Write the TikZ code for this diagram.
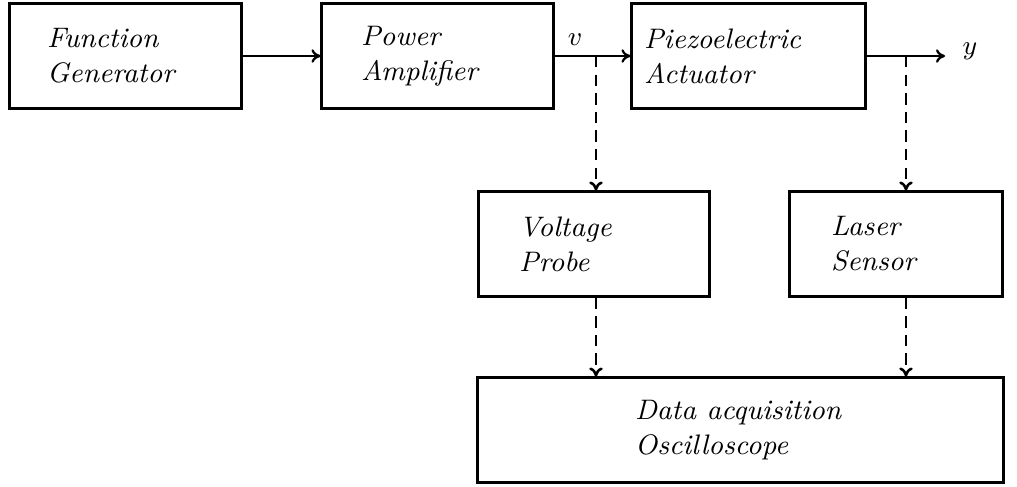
\documentclass[tikz,border=0pt]{standalone}
\usetikzlibrary{calc,arrows.meta}
\begin{document}
\begin{tikzpicture}[x=0.3333pt,y=-0.3333pt,
  box/.style={draw,line width=1pt,rectangle,minimum height=34.7pt,inner sep=0pt},
  lbl/.style={anchor=west,align=left,font=\fontsize{9.4}{11.7}\selectfont\itshape,inner sep=0pt},
  flow/.style={line width=0.75pt,-{To[length=3pt,width=4.5pt]}},
  probe/.style={flow,line width=0.85pt,dash pattern=on 3.8pt off 2.4pt}]
\useasboundingbox (0,0) rectangle (1017,486);
\node[box,minimum width=77pt] (fg) at (125.5,56) {};
\node[box,minimum width=77pt] (pa) at (437.5,56) {};
\node[box,minimum width=77.7pt] (pz) at (748.5,56) {};
\node[box,minimum width=77.3pt] (vp) at (594,244) {};
\node[box,minimum width=71.3pt] (ls) at (896,244) {};
\node[box,minimum width=175pt] (da) at (740.5,430) {};
\node[lbl] (tfg) at ($(fg.west)+(38,0)$) {Function\\Generator};
\node[lbl] (tpa) at ($(pa.west)+(40,0)$) {Power\\Amplifier};
\node[lbl] (tpz) at ($(pz.west)+(13,0)$) {Piezoelectric\\Actuator};
\node[lbl] (tvp) at ($(vp.west)+(42,0)$) {Voltage\\Probe};
\node[lbl] (tls) at ($(ls.west)+(43,0)$) {Laser\\Sensor};
\node[lbl] (tda) at ($(da.west)+(158,0)$) {Data acquisition\\Oscilloscope};
\coordinate (b1) at (596,56);
\coordinate (b2) at (906,56);
\coordinate (yend) at (945,56);
\node[inner sep=0pt,font=\fontsize{9.4}{11}\selectfont] (v) at (575,40) {$v$};
\node[inner sep=0pt,font=\fontsize{9.4}{11}\selectfont] (y) at (970,51) {$y$};
\draw[flow] (fg.east) -- (pa.west);
\draw[flow] (pa.east) -- (pz.west);
\draw[flow] (pz.east) -- (yend);
\draw[probe] (b1) -- (b1 |- vp.north);
\draw[probe] (b2) -- (b2 |- ls.north);
\draw[probe] (b1 |- vp.south) -- (b1 |- da.north);
\draw[probe] (b2 |- ls.south) -- (b2 |- da.north);
\end{tikzpicture}
\end{document}
